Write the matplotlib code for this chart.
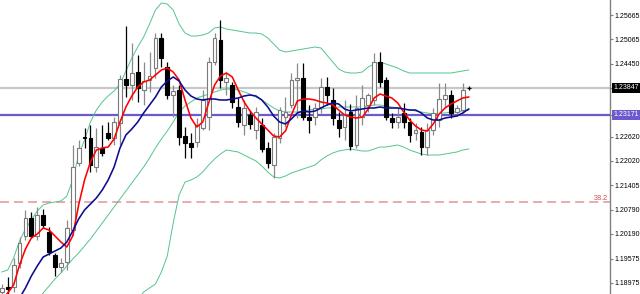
import matplotlib
matplotlib.use('Agg')
import matplotlib.pyplot as plt
import matplotlib.transforms as mtransforms
import numpy as np

# ---------------- data ----------------
opens = [1.1874, 1.18865, 1.18865, 1.19465, 1.2014, 1.2059, 1.2014, 1.20665, 1.2024, 1.19665,
         1.19365, 1.1949, 1.2029, 1.21965, 1.22615, 1.2259, 1.21865, 1.2234, 1.22715, 1.2259,
         1.22965, 1.24065, 1.23915, 1.2424, 1.2379, 1.2404, 1.2434, 1.2509, 1.24365, 1.23665,
         1.2379, 1.2264, 1.22465, 1.2249, 1.2284, 1.23115, 1.2449, 1.2504, 1.2399, 1.23915,
         1.23365, 1.22915, 1.23165, 1.2279, 1.22915, 1.2234, 1.21915, 1.2259, 1.23115, 1.23415,
         1.2404, 1.2409, 1.23115, 1.23115, 1.23365, 1.23865, 1.2354, 1.2304, 1.22865, 1.2324,
         1.22415, 1.23115, 1.23415, 1.2354, 1.2449, 1.2404, 1.2309, 1.2299, 1.23215, 1.2299,
         1.22715, 1.2274, 1.22365, 1.2279, 1.2304, 1.23565, 1.23665, 1.2324, 1.2329, 1.2384]
highs = [1.1894, 1.19115, 1.1959, 1.20115, 1.2079, 1.2074, 1.20865, 1.20815, 1.20365, 1.19715,
         1.1959, 1.2054, 1.22415, 1.2254, 1.2284, 1.22915, 1.2284, 1.22915, 1.2299, 1.23115,
         1.24165, 1.2539, 1.24965, 1.24665, 1.2449, 1.2474, 1.25215, 1.25215, 1.2449, 1.23915,
         1.23915, 1.22865, 1.22715, 1.2309, 1.2379, 1.24615, 1.25215, 1.2554, 1.24215, 1.2399,
         1.2359, 1.2354, 1.2329, 1.23365, 1.2309, 1.2249, 1.22715, 1.23365, 1.23615, 1.24215,
         1.24465, 1.24465, 1.23415, 1.23465, 1.2409, 1.24115, 1.2384, 1.2324, 1.2354, 1.2344,
         1.23665, 1.23915, 1.23715, 1.24715, 1.2474, 1.24115, 1.23215, 1.2334, 1.23465, 1.2309,
         1.22965, 1.22865, 1.22965, 1.2334, 1.23965, 1.23965, 1.2379, 1.23415, 1.23965, 1.2389]
lows = [1.1864, 1.1869, 1.1874, 1.1934, 1.2004, 1.2009, 1.2004, 1.2034, 1.19665, 1.1914,
        1.1924, 1.1929, 1.20165, 1.2189, 1.2234, 1.2174, 1.2174, 1.2214, 1.2254, 1.22415,
        1.22415, 1.23615, 1.2354, 1.2349, 1.23415, 1.2374, 1.2409, 1.24365, 1.23565, 1.23115,
        1.22415, 1.2209, 1.2209, 1.22365, 1.2279, 1.2279, 1.24415, 1.2384, 1.23665, 1.2334,
        1.22865, 1.22665, 1.22815, 1.22565, 1.2224, 1.2184, 1.2159, 1.22465, 1.22865, 1.2334,
        1.2309, 1.2304, 1.22715, 1.22915, 1.23215, 1.23415, 1.22915, 1.22615, 1.2254, 1.2229,
        1.2234, 1.22915, 1.2324, 1.23415, 1.23865, 1.2304, 1.2284, 1.2284, 1.2284, 1.2249,
        1.2254, 1.22165, 1.22165, 1.22665, 1.22865, 1.23365, 1.2309, 1.2314, 1.23215, 1.2379]
closes = [1.1884, 1.18815, 1.19415, 1.19965, 1.2059, 1.2014, 1.20665, 1.20415, 1.1974, 1.19365,
          1.19465, 1.2034, 1.21865, 1.2234, 1.2259, 1.21915, 1.22365, 1.22215, 1.2259, 1.2299,
          1.24065, 1.23915, 1.24215, 1.2384, 1.24015, 1.2414, 1.2509, 1.2459, 1.23665, 1.23765,
          1.22615, 1.22465, 1.22365, 1.22915, 1.2354, 1.2449, 1.2509, 1.2404, 1.2409, 1.2349,
          1.2299, 1.2334, 1.2294, 1.2324, 1.22315, 1.21965, 1.22615, 1.2329, 1.2324, 1.2404,
          1.2409, 1.23115, 1.2304, 1.2334, 1.23865, 1.23665, 1.2309, 1.2284, 1.2319, 1.2239,
          1.2334, 1.2359, 1.23665, 1.2449, 1.2399, 1.23115, 1.2299, 1.23115, 1.2299, 1.22665,
          1.2279, 1.22365, 1.2279, 1.23215, 1.23565, 1.23665, 1.23215, 1.2334, 1.2379, 1.2384]

ma_fast = [1.1854, 1.18715, 1.18915, 1.19415, 1.19815, 1.2009, 1.2019, 1.2034, 1.2029, 1.2014,
           1.1999, 1.19865, 1.2014, 1.20915, 1.2154, 1.2199, 1.2229, 1.2234, 1.22365, 1.22565,
           1.2299, 1.23365, 1.2364, 1.23865, 1.2399, 1.2404, 1.24165, 1.2429, 1.2434, 1.2424,
           1.2404, 1.2354, 1.2309, 1.22865, 1.2299, 1.23465, 1.23915, 1.2414, 1.24215, 1.24115,
           1.2379, 1.2349, 1.23265, 1.2309, 1.2294, 1.2279, 1.2264, 1.22615, 1.22765, 1.23165,
           1.23515, 1.23565, 1.23565, 1.2354, 1.2349, 1.23465, 1.23415, 1.2329, 1.23165, 1.23115,
           1.2309, 1.23115, 1.23315, 1.2359, 1.2369, 1.2364, 1.2359, 1.23465, 1.2324, 1.2304,
           1.2289, 1.2279, 1.22765, 1.2294, 1.2319, 1.2334, 1.2344, 1.23515, 1.2359, 1.23615]
ma_slow = [1.1779, 1.1804, 1.1829, 1.1859, 1.1884, 1.1914, 1.1939, 1.19615, 1.1969, 1.19765,
           1.1984, 1.1999, 1.20265, 1.20565, 1.2079, 1.2094, 1.2109, 1.2129, 1.2154, 1.21865,
           1.2234, 1.22665, 1.22815, 1.2299, 1.23215, 1.23415, 1.23615, 1.23865, 1.24015, 1.24115,
           1.24015, 1.2379, 1.2364, 1.23565, 1.2354, 1.23565, 1.23565, 1.2354, 1.2354, 1.23565,
           1.2359, 1.2364, 1.23665, 1.2364, 1.2354, 1.23365, 1.2314, 1.2299, 1.2294, 1.23065,
           1.23215, 1.23265, 1.2324, 1.23265, 1.2334, 1.23415, 1.23465, 1.2344, 1.23315, 1.23265,
           1.2329, 1.23315, 1.2334, 1.2334, 1.23365, 1.2334, 1.2334, 1.2334, 1.23315, 1.2329,
           1.2329, 1.23215, 1.2309, 1.2304, 1.2304, 1.2309, 1.23115, 1.2314, 1.23215, 1.23315]
bb_upper = [1.1924, 1.1929, 1.1959, 1.20015, 1.20315, 1.2054, 1.20765, 1.20915, 1.20965, 1.2099,
            1.21015, 1.2114, 1.2154, 1.22165, 1.2254, 1.2299, 1.2329, 1.2349, 1.2364, 1.23765,
            1.2394, 1.24265, 1.2459, 1.24865, 1.25115, 1.2544, 1.2579, 1.25965, 1.2594, 1.2579,
            1.2544, 1.25215, 1.2514, 1.2514, 1.25165, 1.25215, 1.2534, 1.25365, 1.25315, 1.2529,
            1.25265, 1.2524, 1.25215, 1.25215, 1.2519, 1.2509, 1.2494, 1.2479, 1.2474, 1.24765,
            1.2479, 1.24815, 1.2484, 1.24865, 1.2484, 1.24665, 1.2449, 1.24315, 1.2424, 1.24215,
            1.24215, 1.2424, 1.24365, 1.2444, 1.2449, 1.2444, 1.2439, 1.2434, 1.24265, 1.24215,
            1.24215, 1.24215, 1.24215, 1.24215, 1.24215, 1.24215, 1.24215, 1.2424, 1.24265, 1.2429]
bb_mid = [1.1754, 1.17715, 1.1789, 1.18065, 1.18215, 1.18365, 1.1854, 1.18715, 1.1889, 1.19065,
          1.19215, 1.1939, 1.19565, 1.19715, 1.1989, 1.20065, 1.20265, 1.20465, 1.20665, 1.20865,
          1.21065, 1.21265, 1.21465, 1.21665, 1.21865, 1.2209, 1.2234, 1.22565, 1.22765, 1.2299,
          1.2324, 1.2339, 1.2349, 1.2359, 1.2364, 1.2369, 1.2374, 1.2379, 1.23815, 1.23815,
          1.2379, 1.2374, 1.2369, 1.23615, 1.2354, 1.2344, 1.2334, 1.23265, 1.2324, 1.2324,
          1.2324, 1.23265, 1.2329, 1.23315, 1.23315, 1.2334, 1.2334, 1.23365, 1.23365, 1.23365,
          1.23365, 1.23365, 1.2339, 1.23415, 1.23415, 1.2339, 1.23365, 1.2334, 1.23315, 1.2329,
          1.23265, 1.2324, 1.23215, 1.2319, 1.23215, 1.23215, 1.2324, 1.2324, 1.23265, 1.2329]
bb_lower = [np.nan] * 22 + [
    1.18165, 1.1854, 1.1874, 1.1884, 1.1894, 1.1924, 1.1964, 1.20465,
    1.21165, 1.2149, 1.2154, 1.21615, 1.2174, 1.21915, 1.22065, 1.2219, 1.2229, 1.22265,
    1.2224, 1.22165, 1.2209, 1.22015, 1.2189, 1.2174, 1.21615, 1.2159, 1.2164, 1.21715,
    1.21765, 1.21815, 1.21865, 1.21915, 1.2204, 1.2214, 1.22215, 1.22265, 1.2229, 1.22315,
    1.2229, 1.22265, 1.22265, 1.22315, 1.22365, 1.22365, 1.2239, 1.22415, 1.22365, 1.2229,
    1.2224, 1.2219, 1.22165, 1.22165, 1.22165, 1.2219, 1.22215, 1.2224, 1.2229, 1.22315]

price_ticks = [1.25665, 1.25065, 1.24450, 1.23847, 1.23171, 1.22620,
               1.22020, 1.21405, 1.20790, 1.20190, 1.19575, 1.18975]
current_price = 1.23847
hline_price = 1.23171
fibo_price = 1.2099
fibo_label = "38.2"

# ---------------- figure ----------------
plt.rcParams['font.family'] = ['Liberation Sans', 'DejaVu Sans']
plt.rcParams['lines.scale_dashes'] = False

fig = plt.figure(figsize=(6.4, 2.94), dpi=100)
fig.patch.set_facecolor('white')
ax = fig.add_axes([0, 0, 610 / 640, 1])
ax.set_facecolor('white')

o = np.array(opens); h = np.array(highs); l = np.array(lows); c = np.array(closes)
x = np.arange(len(o))

ax.set_xlim(-0.305, 102.91)
ax.set_ylim(1.1869, 1.2604)

lab_fs = 5.0

# horizontal objects
ax.axhline(current_price, color='#c8c8c8', lw=1.6, zorder=1)
ax.axhline(hline_price, color='#6a5acd', lw=1.6, zorder=1)
ax.axhline(fibo_price, color='#e8a4a4', lw=1.3, dashes=(6.5, 3.6), zorder=1)
bt = mtransforms.blended_transform_factory(ax.transAxes, ax.transData)
ax.text(608 / 610, fibo_price + 0.0001, fibo_label, transform=bt,
        ha='right', va='bottom', fontsize=5.2, color='#d04848')

# bollinger bands
band_col = '#55c48c'
ax.plot(x, bb_upper, color=band_col, lw=0.7, zorder=2)
ax.plot(x, bb_mid, color=band_col, lw=0.7, zorder=2)
ax.plot(x, bb_lower, color=band_col, lw=0.7, zorder=2)

# candles
bull = c > o
bear = c < o
doji = c == o
bw = 0.64
ax.vlines(x[bull], l[bull], h[bull], color='#8a8a8a', lw=0.9, zorder=3)
ax.vlines(x[~bull], l[~bull], h[~bull], color='black', lw=0.9, zorder=3)
ax.bar(x[bull], (c - o)[bull], bottom=o[bull], width=bw, color='white', edgecolor='#7a7a7a', linewidth=0.8, zorder=4)
ax.bar(x[bear], (o - c)[bear], bottom=c[bear], width=bw, color='black', edgecolor='black', linewidth=0.8, zorder=4)
ax.hlines(c[doji], x[doji] - bw / 2, x[doji] + bw / 2, color='black', lw=0.9, zorder=4)

# moving averages
ax.plot(x, ma_fast, color='#ff0000', lw=1.15, zorder=5)
ax.plot(x, ma_slow, color='#0c0c90', lw=1.15, zorder=5)

# axes styling
for s in ['top', 'left', 'bottom']:
    ax.spines[s].set_visible(False)
ax.spines['right'].set_color('#808080')
ax.spines['right'].set_linewidth(1.0)
ax.set_xticks([])
ax.yaxis.tick_right()
ax.set_yticks(price_ticks)
labels = ['' if p in (current_price, hline_price) else f'{p:.5f}' for p in price_ticks]
ax.set_yticklabels(labels)
ax.tick_params(axis='y', direction='out', length=2.0, width=0.8, colors='#808080',
               labelcolor='black', labelsize=lab_fs, pad=1.0)

ax.text(1.0 + 3.0 / 610, current_price, f'{current_price:.5f}', transform=bt, ha='left', va='center',
        fontsize=lab_fs, color='white', clip_on=False,
        bbox=dict(boxstyle='square,pad=0.2', fc='black', ec='none'))
ax.text(1.0 + 3.0 / 610, hline_price, f'{hline_price:.5f}', transform=bt, ha='left', va='center',
        fontsize=lab_fs, color='white', clip_on=False,
        bbox=dict(boxstyle='square,pad=0.2', fc='#6a5acd', ec='none'))

fig.savefig('out.png', dpi=100, facecolor='white')
